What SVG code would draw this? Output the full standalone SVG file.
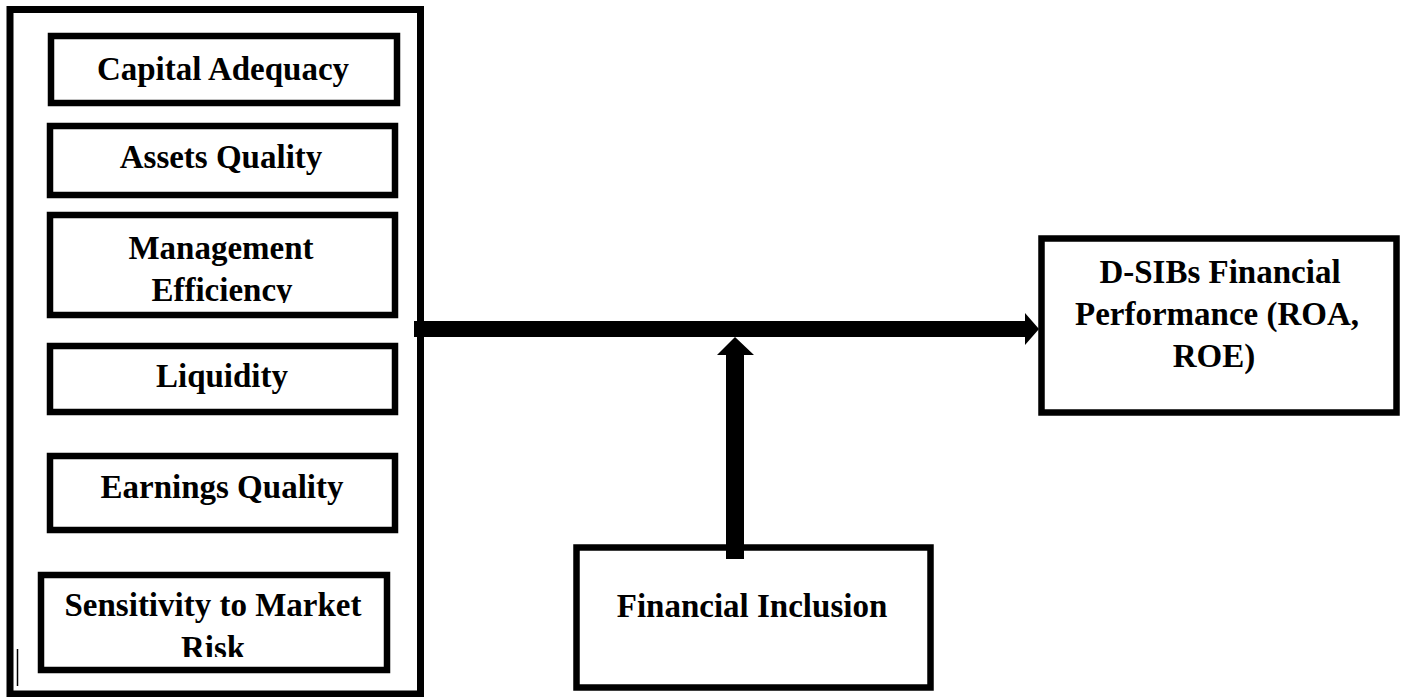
<svg xmlns="http://www.w3.org/2000/svg" width="1403" height="697" viewBox="0 0 1403 697">
<style>
.box{fill:#fff;stroke:#000;stroke-width:6.5}
.outer{fill:#fff;stroke:#000;stroke-width:7}
.t{font-family:"Liberation Serif","Times New Roman",serif;font-weight:bold;font-size:33px;fill:#000;text-anchor:middle}
.conn{fill:#000;stroke:none}
</style>
<defs>
<clipPath id="clipMgmt"><rect x="50" y="215" width="345" height="88"/></clipPath>
<clipPath id="clipSens"><rect x="41" y="575" width="346" height="82"/></clipPath>
</defs>
<rect width="1403" height="697" fill="#fff"/>
<g id="camels-group">
<rect class="outer" x="10" y="9.5" width="410.5" height="684.5"/>
<line x1="17.5" y1="649" x2="17.5" y2="686" stroke="#000" stroke-width="1.5"/>
</g>
<g id="capital-adequacy">
<rect class="box" x="51" y="36" width="346" height="67"/>
<text class="t" x="223" y="80">Capital Adequacy</text>
</g>
<g id="assets-quality">
<rect class="box" x="50" y="126" width="345" height="69"/>
<text class="t" x="221" y="168">Assets Quality</text>
</g>
<g id="management-efficiency">
<rect class="box" x="50" y="215" width="345" height="100"/>
<text class="t" clip-path="url(#clipMgmt)"><tspan x="221" y="259">Management</tspan><tspan x="222" y="301">Efficiency</tspan></text>
</g>
<g id="liquidity">
<rect class="box" x="50" y="346" width="345" height="66"/>
<text class="t" x="222" y="387">Liquidity</text>
</g>
<g id="earnings-quality">
<rect class="box" x="50" y="456" width="345" height="74"/>
<text class="t" x="222" y="498">Earnings Quality</text>
</g>
<g id="sensitivity">
<rect class="box" x="41" y="575" width="346" height="95"/>
<text class="t" clip-path="url(#clipSens)"><tspan x="213" y="616">Sensitivity to Market</tspan><tspan x="213" y="659">Risk</tspan></text>
</g>
<g id="dsibs-performance">
<rect class="box" x="1041.5" y="238.5" width="355" height="174"/>
<text class="t"><tspan x="1220" y="283">D-SIBs Financial</tspan><tspan x="1217" y="325">Performance (ROA,</tspan><tspan x="1214" y="367">ROE)</tspan></text>
</g>
<g id="financial-inclusion">
<rect class="box" x="576.5" y="547.5" width="354" height="140"/>
<text class="t" x="752" y="617">Financial Inclusion</text>
</g>
<g id="connectors">
<polygon class="conn" points="414,321 1025,321 1025,313 1039,329 1025,345 1025,337 414,337"/>
<polygon class="conn" points="726,559 726,355 717,355 735,337 754,355 744,355 744,559"/>
</g>
</svg>
